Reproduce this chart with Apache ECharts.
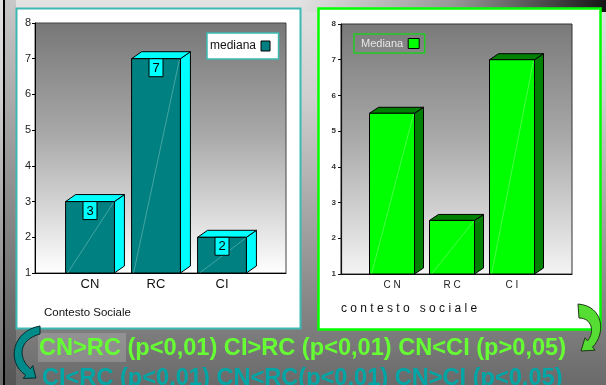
<!DOCTYPE html>
<html>
<head>
<meta charset="utf-8">
<script src="https://cdn.jsdelivr.net/npm/echarts@6/dist/echarts.min.js"></script>
<style>
  html, body { margin: 0; padding: 0; background: #888; }
  #chart { width: 606px; height: 385px; }
</style>
</head>
<body>
<div id="chart"></div>
<script>
// Categories shared by both panels
const categories = ['CN', 'RC', 'CI'];
// Median values, left panel
const leftMedians = [3, 7, 2];
// Median values, right panel (contesto sociale)
const rightMedians = [5.5, 2.5, 7];
// Value axis range and step
const yMin = 1;
const yMax = 8;
const yStep = 1;
// Text lines under the charts
const lineOne = 'CN>RC (p<0,01) CI>RC (p<0,01) CN<CI (p>0,05)';
const lineTwo = 'CI<RC (p<0,01) CN<RC(p<0,01) CN>CI (p<0,05)';

const FONT = '"Liberation Sans", Arial, sans-serif';

// Letter-spaced rendering used in the right panel's labels
const spaced = s => s.split('').join(' ');

// 3D box bar: front face, top face, side face (+ optional value tag)
function bar3d(o) {
  return function (params, api) {
    const v = api.value(1);
    const top = api.coord([api.value(0), v]);
    const base = api.coord([api.value(0), yMin]);
    const w = api.size([1, 0])[0] * o.ratio;
    const x0 = top[0] - w / 2, x1 = top[0] + w / 2;
    const yt = top[1], yb = base[1];
    const dx = o.dx, dy = o.dy;
    const kids = [
      { type: 'polygon', shape: { points: [[x1, yt], [x1 + dx, yt - dy], [x1 + dx, yb - dy], [x1, yb]] },
        style: { fill: o.side, stroke: '#000', lineWidth: 1 } },
      { type: 'polygon', shape: { points: [[x0, yt], [x0 + dx, yt - dy], [x1 + dx, yt - dy], [x1, yt]] },
        style: { fill: o.side, stroke: '#000', lineWidth: 1 } },
      { type: 'rect', shape: { x: x0, y: yt, width: w, height: yb - yt },
        style: { fill: o.front, stroke: '#000', lineWidth: 1 } },
      { type: 'line', shape: { x1: x0 + 2, y1: yb, x2: x1 - 1, y2: yt + 1 },
        style: { stroke: 'rgba(255,255,255,0.35)', lineWidth: 0.8 } }
    ];
    if (o.tag) {
      kids.push({ type: 'rect', shape: { x: top[0] - 7, y: yt, width: 14, height: 18 },
        style: { fill: o.side, stroke: '#000', lineWidth: 1 } });
      kids.push({ type: 'text', style: { text: String(v), x: top[0], y: yt + 9.5,
        align: 'center', verticalAlign: 'middle', font: '13px ' + FONT, fill: '#000' } });
    }
    return { type: 'group', children: kids };
  };
}

// Curved arrows beside the statistics text
function arrows() {
  return { type: 'group', children: [
    { type: 'path', shape: { pathData:
        'M40 326 C12 331 6 362 25.6 375.2 L23.2 378.4 L36 378 L32.8 365.6 L30.4 368.8 C18 358 18 340 40 334 Z' },
      style: { fill: '#008b8b', stroke: '#0a2a2a', lineWidth: 1 } },
    { type: 'path', shape: { pathData:
        'M578 304 C604 306 606 334 592.5 347.1 L595 350.2 L581 351 L585 337.8 L587.5 340.9 C595 332 592 318 579 318 Z' },
      style: { fill: '#55dd33', stroke: '#1a3a10', lineWidth: 1 } }
  ] };
}

const vGrad = (stops) => new echarts.graphic.LinearGradient(0, 0, 0, 1, stops);

const chart = echarts.init(document.getElementById('chart'), null, { renderer: 'canvas' });

const valueAxisBase = {
  type: 'value', min: yMin, max: yMax, interval: yStep, z: 5,
  splitLine: { show: false }
};

chart.setOption({
  animation: false,
  backgroundColor: 'transparent',
  textStyle: { fontFamily: FONT },
  grid: [
    { left: 35, top: 23, width: 251, height: 250 },
    { left: 57, top: 23, width: 198, height: 250 },
    { left: 341, top: 24, width: 231, height: 250 },
    { left: 362, top: 24, width: 180, height: 250 }
  ],
  xAxis: [
    { gridIndex: 0, type: 'value', min: 0, max: 1, z: 5,
      axisLine: { lineStyle: { color: '#000', width: 1 } },
      axisTick: { show: false }, axisLabel: { show: false }, splitLine: { show: false } },
    { gridIndex: 1, type: 'category', data: categories, z: 5,
      axisLine: { show: false }, axisTick: { show: false },
      axisLabel: { fontSize: 13, color: '#111', margin: 5, fontFamily: FONT } },
    { gridIndex: 2, type: 'value', min: 0, max: 1, z: 5,
      axisLine: { lineStyle: { color: '#111', width: 1.2 } },
      axisTick: { show: false }, axisLabel: { show: false }, splitLine: { show: false } },
    { gridIndex: 3, type: 'category', data: categories, z: 5,
      axisLine: { show: false }, axisTick: { show: false },
      axisLabel: { fontSize: 10, color: '#222', margin: 6, fontFamily: FONT, formatter: spaced } }
  ],
  yAxis: [
    Object.assign({}, valueAxisBase, { gridIndex: 0,
      axisLine: { show: true, lineStyle: { color: '#000', width: 1 } },
      axisTick: { show: true, length: 3, lineStyle: { color: '#000' } },
      axisLabel: { fontSize: 11, color: '#222', margin: 4, fontFamily: FONT } }),
    Object.assign({}, valueAxisBase, { gridIndex: 1, show: false }),
    Object.assign({}, valueAxisBase, { gridIndex: 2,
      axisLine: { show: true, lineStyle: { color: '#111', width: 1.2 } },
      axisTick: { show: true, length: 3, lineStyle: { color: '#111' } },
      axisLabel: { fontSize: 8, fontWeight: 'bold', color: '#333', margin: 5, fontFamily: FONT } }),
    Object.assign({}, valueAxisBase, { gridIndex: 3, show: false })
  ],
  legend: [
    { data: [{ name: 'mediana', icon: 'rect',
        itemStyle: { color: '#008080', borderColor: '#000', borderWidth: 1 } }],
      left: 207, top: 33, align: 'right', itemWidth: 9, itemHeight: 10, itemGap: 0,
      padding: [7, 8, 7, 3], backgroundColor: '#fff', borderColor: '#3cbab2', borderWidth: 1.5,
      selectedMode: false, z: 7,
      textStyle: { fontSize: 12, color: '#111', fontFamily: FONT } },
    { data: [{ name: 'Mediana', icon: 'rect',
        itemStyle: { color: '#00ff00', borderColor: '#000', borderWidth: 1 } }],
      left: 354, top: 34, align: 'right', itemWidth: 11, itemHeight: 10, itemGap: 0,
      padding: [4, 5, 4, 7], backgroundColor: 'transparent', borderColor: '#22cc22', borderWidth: 1.5,
      selectedMode: false, z: 7,
      textStyle: { fontSize: 11, color: '#e6e6e6', fontFamily: FONT } }
  ],
  series: [
    { name: 'mediana', type: 'custom', xAxisIndex: 1, yAxisIndex: 1, z: 6,
      itemStyle: { color: '#008080' },
      renderItem: bar3d({ ratio: 0.74, dx: 10, dy: 7, front: '#008080', side: '#00ffff', tag: true }),
      encode: { x: 0, y: 1 },
      data: leftMedians.map((v, i) => [i, v]) },
    { name: 'Mediana', type: 'custom', xAxisIndex: 3, yAxisIndex: 3, z: 6,
      itemStyle: { color: '#00ff00' },
      renderItem: bar3d({ ratio: 0.75, dx: 9, dy: 6, front: '#00ff00', side: '#008000', tag: false }),
      encode: { x: 0, y: 1 },
      data: rightMedians.map((v, i) => [i, v]) },
    { name: 'frecce', type: 'custom', coordinateSystem: 'none', z: 9, silent: true,
      renderItem: arrows, data: [0] }
  ],
  graphic: [
    // slide backdrop
    { type: 'rect', z: 0, shape: { x: 0, y: 0, width: 606, height: 385 },
      style: { fill: vGrad([{ offset: 0, color: '#e2e2e2' }, { offset: 0.25, color: '#cfcfcf' },
        { offset: 0.8, color: '#858585' }, { offset: 1, color: '#6a6a6a' }]) } },
    { type: 'rect', z: 0, shape: { x: 300, y: 0, width: 306, height: 12 },
      style: { fill: new echarts.graphic.LinearGradient(0, 0, 1, 0, [
        { offset: 0, color: 'rgba(40,40,40,0)' }, { offset: 0.5, color: 'rgba(40,40,40,0.4)' },
        { offset: 1, color: 'rgba(20,20,20,1)' }]) } },
    { type: 'rect', z: 0, shape: { x: 5, y: 0, width: 11, height: 385 },
      style: { fill: vGrad([{ offset: 0, color: '#c8c8c8' }, { offset: 1, color: '#555' }]) } },
    { type: 'rect', z: 0, shape: { x: 3, y: 0, width: 2, height: 385 }, style: { fill: '#000' } },
    { type: 'rect', z: 0, shape: { x: 38, y: 333, width: 88, height: 29 }, style: { fill: 'rgba(200,200,200,0.3)' } },
    // panels
    { type: 'rect', z: 1, shape: { x: 16.5, y: 8.5, width: 284, height: 320 },
      style: { fill: '#fff', stroke: '#3cbab2', lineWidth: 2 } },
    { type: 'rect', z: 1, shape: { x: 318.5, y: 8.5, width: 282, height: 321 },
      style: { fill: '#fff', stroke: '#00ff00', lineWidth: 2.5 } },
    // plot walls
    { type: 'rect', z: 2, shape: { x: 35, y: 23, width: 251, height: 250 },
      style: { fill: vGrad([{ offset: 0, color: '#777' }, { offset: 0.45, color: '#a9a9a9' },
        { offset: 1, color: '#ffffff' }]), stroke: '#444', lineWidth: 1 } },
    { type: 'rect', z: 2, shape: { x: 341, y: 24, width: 231, height: 250 },
      style: { fill: vGrad([{ offset: 0, color: '#7a7a7a' }, { offset: 0.45, color: '#a8a8a8' },
        { offset: 1, color: '#f4f4f4' }]), stroke: '#333', lineWidth: 1 } },
    // axis titles
    { type: 'text', z: 8, style: { text: 'Contesto Sociale', x: 44, y: 313, verticalAlign: 'middle',
        font: '11.5px ' + FONT, fill: '#111' } },
    { type: 'text', z: 8, style: { text: spaced('contesto') + '   ' + spaced('sociale'), x: 341, y: 309,
        verticalAlign: 'middle', font: '12px ' + FONT, fill: '#111' } },
    // statistics text
    { type: 'text', z: 10, style: { text: lineOne, x: 39, y: 348, verticalAlign: 'middle',
        font: 'bold 23.6px ' + FONT, fill: '#66ff33',
        textShadowColor: 'rgba(0,0,0,0.55)', textShadowOffsetX: 1, textShadowOffsetY: 1 } },
    { type: 'text', z: 10, style: { text: lineTwo, x: 42, y: 378, verticalAlign: 'middle',
        font: 'bold 23.6px ' + FONT, fill: '#00a6a6',
        textShadowColor: 'rgba(0,0,0,0.55)', textShadowOffsetX: 1, textShadowOffsetY: 1 } }
  ]
});
</script>
</body>
</html>
